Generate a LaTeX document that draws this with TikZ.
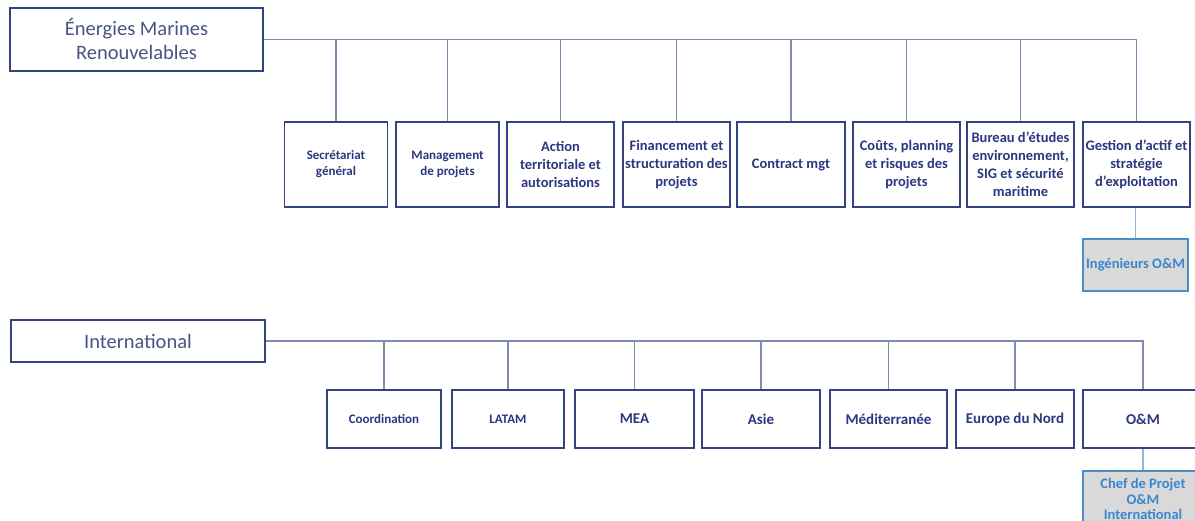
\documentclass[tikz,border=0pt]{standalone}
\usepackage{fontspec}
\setmainfont{Carlito}
\definecolor{navy}{HTML}{34427F}
\definecolor{navytext}{HTML}{2C3780}
\definecolor{titletext}{HTML}{4A5484}
\definecolor{linecol}{HTML}{8089B2}
\definecolor{lblue}{HTML}{4D8CC6}
\definecolor{lbluetext}{HTML}{3A86CC}
\definecolor{lbline}{HTML}{94B6DA}
\definecolor{greyfill}{HTML}{D9D9D9}
\tikzset{
  headbox/.style={draw=navy, line width=1.6pt, fill=white, align=center, text=titletext, inner sep=2pt, font=\fontsize{20.5}{24}\selectfont},
  unitbox/.style={draw=navy, line width=1.6pt, fill=white, align=center, text=navytext, inner sep=0pt, font=\bfseries\fontsize{14.5}{18}\selectfont},
  smallunit/.style={unitbox, font=\bfseries\fontsize{13}{16}\selectfont},
  rowtwo/.style={unitbox, font=\bfseries\fontsize{15}{18}\selectfont},
  subbox/.style={draw=lblue, line width=1.3pt, fill=greyfill, align=center, text=lbluetext, inner sep=0pt, font=\bfseries\fontsize{14.5}{15.5}\selectfont},
  conn/.style={draw=linecol, line width=1.1pt},
  subconn/.style={draw=lbline, line width=1.1pt}
}
\begin{document}
\begin{tikzpicture}[x=1pt,y=-1pt]
\clip (0,0) rectangle (1195,521);
\fill[white] (0,0) rectangle (1195,521);
% ---- Énergies Marines Renouvelables
\node[headbox, minimum width=253pt, minimum height=63pt] (E) at (136.5,39.5) {Énergies Marines\\Renouvelables};
\node[smallunit, minimum width=103pt, minimum height=85pt] (a1) at (336,164.5) {Secrétariat\\général};
\node[smallunit, minimum width=103pt, minimum height=85pt] (a2) at (447.5,164.5) {Management\\de projets};
\node[unitbox, minimum width=107pt, minimum height=85pt] (a3) at (560.5,164.5) {Action\\territoriale et\\autorisations};
\node[unitbox, minimum width=107pt, minimum height=85pt] (a4) at (676.5,164.5) {Financement et\\structuration des\\projets};
\node[unitbox, minimum width=108pt, minimum height=85pt] (a5) at (791,164.5) {Contract mgt};
\node[unitbox, minimum width=107pt, minimum height=85pt] (a6) at (906.5,164.5) {Coûts, planning\\et risques des\\projets};
\node[unitbox, minimum width=107pt, minimum height=85pt] (a7) at (1020.5,164.5) {Bureau d’études\\environnement,\\SIG et sécurité\\maritime};
\node[unitbox, minimum width=107pt, minimum height=85pt] (a8) at (1136.5,164.5) {Gestion d’actif et\\stratégie\\d’exploitation};
\node[subbox, minimum width=105pt, minimum height=52pt] (a9) at (1135.5,265) {Ingénieurs O\&M};
\draw[conn] (E.east) -- (E.east -| a8.north) -- (a8.north);
\foreach \n in {a1,a2,a3,a4,a5,a6,a7}{
  \draw[conn] (E.east -| \n.north) -- (\n.north);
}
\draw[subconn] (a8.south -| a9.north) -- (a9.north);
% ---- International
\node[headbox, minimum width=254pt, minimum height=42pt] (I) at (138,341) {International};
\node[smallunit, minimum width=114pt, minimum height=58pt] (b1) at (384,419) {Coordination};
\node[smallunit, minimum width=112pt, minimum height=58pt] (b2) at (508,419) {LATAM};
\node[rowtwo, minimum width=119pt, minimum height=58pt] (b3) at (634.5,419) {MEA};
\node[rowtwo, minimum width=118pt, minimum height=58pt] (b4) at (761,419) {Asie};
\node[rowtwo, minimum width=117pt, minimum height=58pt] (b5) at (888.5,419) {Méditerranée};
\node[rowtwo, minimum width=118pt, minimum height=58pt] (b6) at (1015,419) {Europe du Nord};
\node[rowtwo, minimum width=120pt, minimum height=58pt] (b7) at (1143,419) {O\&M};
\node[subbox, minimum width=120pt, minimum height=56pt] (b8) at (1143,499) {Chef de Projet\\O\&M\\International};
\draw[conn] (I.east) -- (I.east -| b7.north) -- (b7.north);
\foreach \n in {b1,b2,b3,b4,b5,b6}{
  \draw[conn] (I.east -| \n.north) -- (\n.north);
}
\draw[subconn] (b7.south) -- (b8.north);
\end{tikzpicture}
\end{document}
